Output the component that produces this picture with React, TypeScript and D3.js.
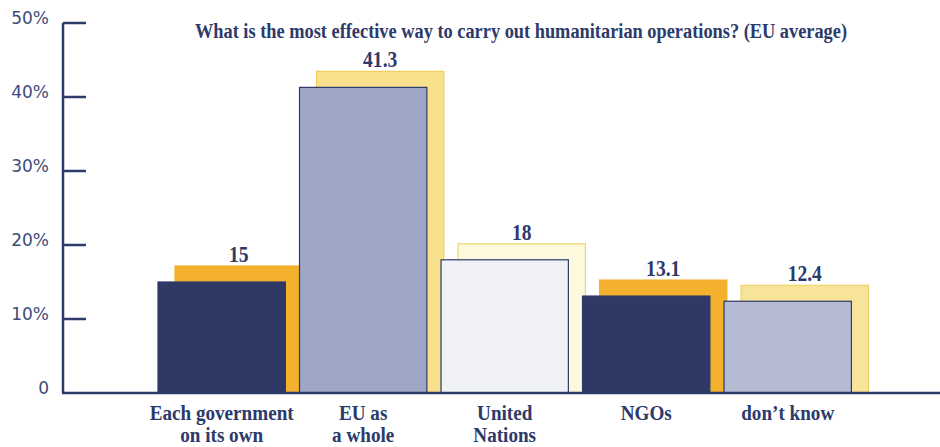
import React, { useLayoutEffect, useRef, useState } from "react";
import * as d3 from "d3";

const categories = ["Each government|on its own", "EU as|a whole", "United|Nations", "NGOs", "don\u2019t know"];
const values = [15, 41.3, 18, 13.1, 12.4];
const valueLabels = ["15", "41.3", "18", "13.1", "12.4"];
const yTicks = [0, 10, 20, 30, 40, 50];
const yTickLabels = ["0", "10%", "20%", "30%", "40%", "50%"];
const title = "What is the most effective way to carry out humanitarian operations? (EU average)";

const frontFill = ["#2e3965", "#9ea7c6", "#eff1f4", "#2e3965", "#b6bbd4"];
const backFill = ["#f4b12e", "#f8e08c", "#fdf9dc", "#f4b12e", "#f8e39a"];
const backStroke = ["#f4b12e", "#f0cf5c", "#f2d66a", "#f4b12e", "#f0d364"];

const W = 940;
const H = 447;
const NAVY = "#2d3a6a";

function Condensed({ x, y, k, children, ...rest }: any) {
  return (
    <g transform={`translate(${x},${y}) scale(${k},1)`}>
      <text x={0} y={0} textAnchor="middle" {...rest}>
        {children}
      </text>
    </g>
  );
}

export default function App() {
  const y = d3.scaleLinear().domain([0, 50]).range([393, 23]);
  const x = d3.scaleBand<number>().domain(d3.range(categories.length)).range([158, 851.4]).paddingInner(0.1).paddingOuter(0);
  const bw = x.bandwidth();
  const dx = 17;
  const dy = 16;
  const serif = "'Liberation Serif', 'Times New Roman', serif";
  const sans = "'DejaVu Sans', 'Liberation Sans', Arial, sans-serif";

  const titleRef = useRef<SVGTextElement>(null);
  const [titleK, setTitleK] = useState(0.85);
  useLayoutEffect(() => {
    if (titleRef.current) {
      const w = titleRef.current.getComputedTextLength();
      if (w > 0) setTitleK(652 / w);
    }
  }, []);

  return (
    <svg width={W} height={H} style={{ position: "absolute", left: 0, top: 0, background: "#fff" }}>
      <g transform={`translate(521,38) scale(${titleK},1)`}>
        <text ref={titleRef} x={0} y={0} textAnchor="middle" fontFamily={serif} fontWeight="bold" fontSize={22} fill={NAVY}>
          {title}
        </text>
      </g>
      {/* back bars */}
      {values.map((v, i) => (
        <rect key={"b" + i} x={x(i)! + dx} y={y(v) - dy} width={bw} height={y(0) - y(v) + dy} fill={backFill[i]} stroke={backStroke[i]} strokeWidth={1.2} />
      ))}
      {/* front bars */}
      {values.map((v, i) => (
        <rect key={"f" + i} x={x(i)!} y={y(v)} width={bw} height={y(0) - y(v)} fill={frontFill[i]} stroke={NAVY} strokeWidth={1.2} />
      ))}
      {/* value labels */}
      {values.map((v, i) => (
        <Condensed key={"v" + i} x={x(i)! + dx + bw / 2} y={y(v) - dy - 4} k={0.85} fontFamily={serif} fontWeight="bold" fontSize={23} fill={NAVY}>
          {valueLabels[i]}
        </Condensed>
      ))}
      {/* axis */}
      <line x1={63} x2={63} y1={y(50)} y2={y(0)} stroke={NAVY} strokeWidth={2.5} />
      <line x1={62} x2={W} y1={y(0)} y2={y(0)} stroke={NAVY} strokeWidth={2.5} />
      {yTicks.map((t, i) => (
        <g key={"t" + i}>
          {t > 0 && <line x1={63} x2={86} y1={y(t)} y2={y(t)} stroke={NAVY} strokeWidth={2.5} />}
          <text x={49} y={y(t) - 5} dy="0.35em" textAnchor="end" fontFamily={sans} fontSize={17} fill="#3d4c7c">
            {yTickLabels[i]}
          </text>
        </g>
      ))}
      {/* category labels */}
      {categories.map((c, i) =>
        c.split("|").map((line, j) => (
          <Condensed key={"c" + i + "-" + j} x={x(i)! + bw / 2} y={420 + j * 22} k={0.87} fontFamily={serif} fontWeight="bold" fontSize={22} fill={NAVY}>
            {line}
          </Condensed>
        ))
      )}
    </svg>
  );
}
